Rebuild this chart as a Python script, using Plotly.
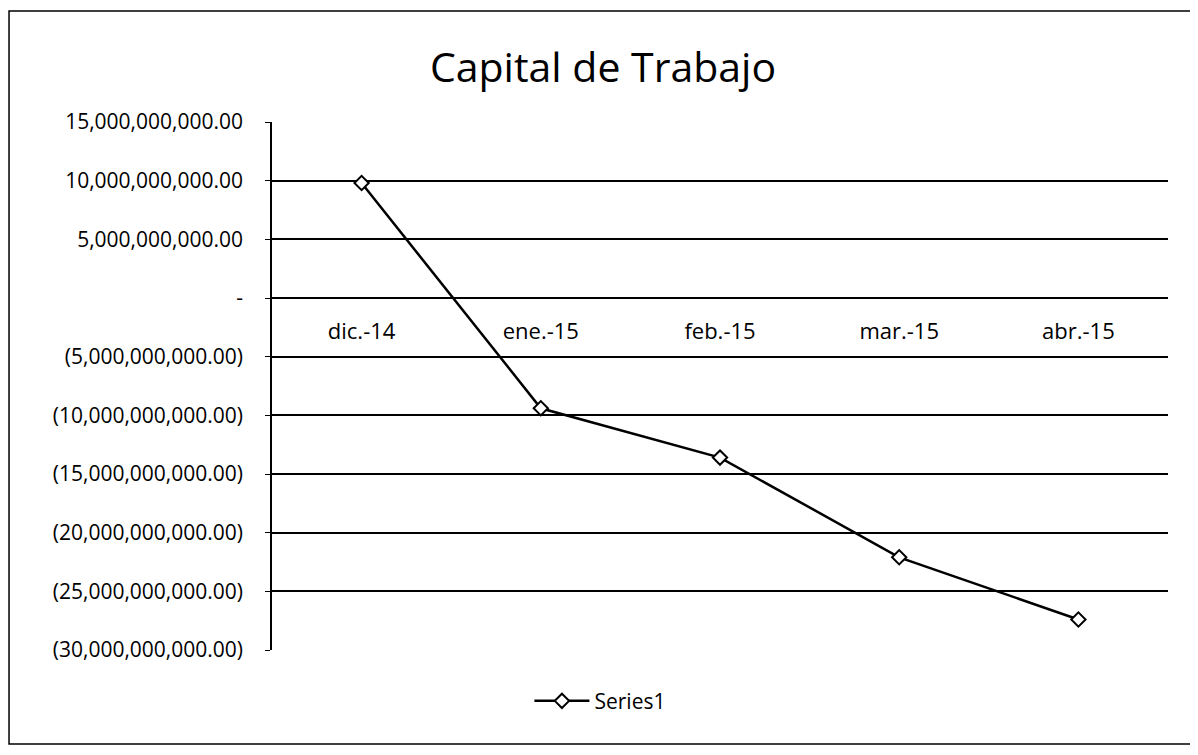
import plotly.graph_objects as go

# data
months = ["dic.-14", "ene.-15", "feb.-15", "mar.-15", "abr.-15"]
capital = [9.8e9, -9.4e9, -13.6e9, -22.1e9, -27.4e9]

tick_vals = [15e9, 10e9, 5e9, 0, -5e9, -10e9, -15e9, -20e9, -25e9, -30e9]
tick_text = [
    "15,000,000,000.00",
    "10,000,000,000.00",
    "5,000,000,000.00",
    "-",
    "(5,000,000,000.00)",
    "(10,000,000,000.00)",
    "(15,000,000,000.00)",
    "(20,000,000,000.00)",
    "(25,000,000,000.00)",
    "(30,000,000,000.00)",
]

y_min, y_max = -30e9, 15e9

fig = go.Figure()

fig.add_trace(
    go.Scatter(
        x=months,
        y=capital,
        mode="lines+markers",
        name="Series1",
        line=dict(color="black", width=2.5),
        marker=dict(symbol="diamond", size=11, color="white",
                    line=dict(color="black", width=2)),
    )
)

# outer chart frame
fig.add_shape(
    type="rect", xref="paper", yref="paper",
    x0=-0.2935, x1=1.0315, y0=-0.178, y1=1.210,
    line=dict(color="black", width=1.5),
)

fig.update_layout(
    title=dict(
        text="Capital de Trabajo",
        x=0.5, xanchor="center",
        y=1 - 60 / 747, yanchor="middle",
        font=dict(size=41, color="black"),
    ),
    font=dict(family="Open Sans, Lato, sans-serif", color="black", size=21),
    xaxis=dict(
        type="category",
        range=[-0.5, 4.5],
        anchor="free",
        position=-y_min / (y_max - y_min),
        showline=True,
        linecolor="black",
        linewidth=1.5,
        showgrid=False,
        ticks="outside",
        ticklen=14,
        tickcolor="rgba(0,0,0,0)",
        tickfont=dict(size=22),
        fixedrange=True,
    ),
    yaxis=dict(
        range=[y_min, y_max],
        tickmode="array",
        tickvals=tick_vals,
        ticktext=tick_text,
        showline=True,
        linecolor="black",
        linewidth=1.5,
        showgrid=True,
        gridcolor="black",
        gridwidth=1.5,
        zeroline=False,
        ticks="outside",
        ticklen=5,
        tickcolor="black",
        ticklabelstandoff=18,
        tickfont=dict(size=21),
        fixedrange=True,
    ),
    legend=dict(
        orientation="h",
        x=0.366, xanchor="center",
        y=-0.097, yanchor="middle",
        itemwidth=55,
        font=dict(size=21),
    ),
    showlegend=True,
    plot_bgcolor="white",
    paper_bgcolor="white",
    width=1190,
    height=747,
    margin=dict(l=264, r=30, t=114, b=105),
)

fig.write_html("out.html")
